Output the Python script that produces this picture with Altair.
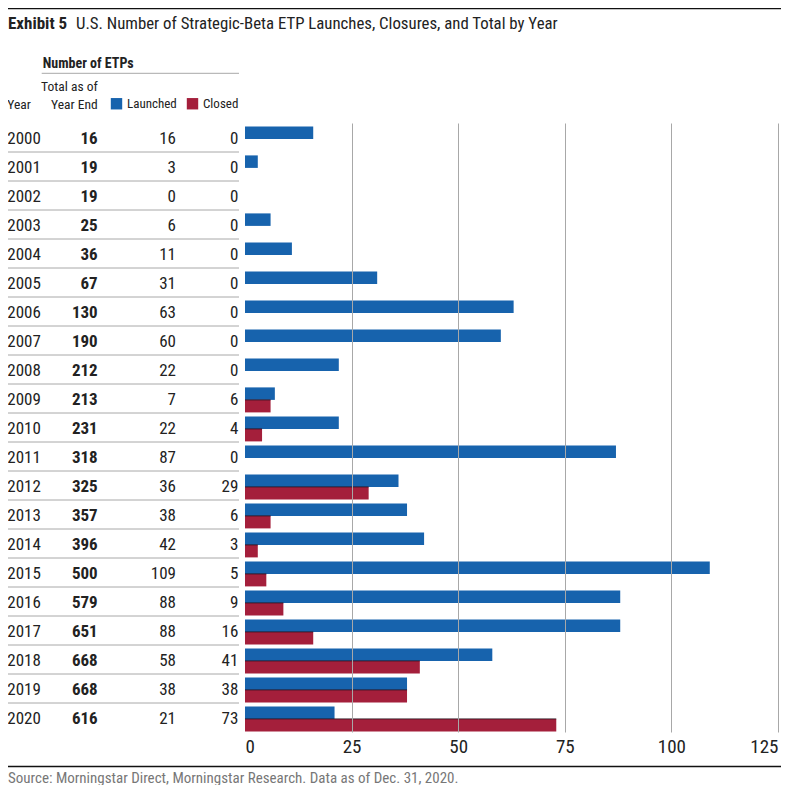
import altair as alt
import pandas as pd

years = [str(y) for y in range(2000, 2021)]
total = [16, 19, 19, 25, 36, 67, 130, 190, 212, 213, 231, 318, 325, 357, 396, 500, 579, 651, 668, 668, 616]
launched = [16, 3, 0, 6, 11, 31, 63, 60, 22, 7, 22, 87, 36, 38, 42, 109, 88, 88, 58, 38, 21]
closed = [0, 0, 0, 0, 0, 0, 0, 0, 0, 6, 4, 0, 29, 6, 3, 5, 9, 16, 41, 38, 73]
series = ["Launched", "Closed"]
ticks = [0, 25, 50, 75, 100, 125]

BLUE = "#1763AD"
RED = "#A41F3B"
FONT = "Roboto Condensed"

rows = pd.DataFrame({"year": years, "total": total, "launched": launched, "closed": closed})
long = pd.DataFrame({
    "year": years + years,
    "series": ["Launched"] * len(years) + ["Closed"] * len(years),
    "value": launched + closed,
})

yenc = alt.Y("year:N", sort=years, scale=alt.Scale(paddingInner=0, paddingOuter=0), axis=None)

bars = alt.Chart(long).mark_bar().encode(
    x=alt.X("value:Q", scale=alt.Scale(domain=[0, 125], nice=False),
            axis=alt.Axis(values=ticks, title=None, domain=False, ticks=False,
                          labelFont=FONT, labelFontSize=19, labelColor="#222",
                          labelPadding=5, labelFlush=True,
                          grid=True, gridColor={"condition": {"test": "datum.value === 0", "value": "transparent"}, "value": "#a8a8a8"},
                          gridWidth=1, zindex=1)),
    y=yenc,
    yOffset=alt.YOffset("series:N", sort=series,
                        scale=alt.Scale(domain=series, paddingInner=0, paddingOuter=0.16, align=0.85)),
    color=alt.Color("series:N", sort=series,
                    scale=alt.Scale(domain=series, range=[BLUE, RED]),
                    legend=alt.Legend(title=None, orient="none", direction="horizontal",
                                      legendX=-135, legendY=-26, symbolType="square",
                                      symbolSize=130, symbolStrokeWidth=0, symbolOpacity=1,
                                      labelFont=FONT, labelFontSize=13, labelColor="#222",
                                      labelOffset=4, columnPadding=9, padding=0)),
)

# thin dark edge on top of the closed bars
edges = alt.Chart(rows[rows.closed > 0]).mark_rule(color="#2a1420", strokeWidth=1, opacity=0.85).encode(
    y=alt.Y("year:N", sort=years, bandPosition=0.548, axis=None),
    x=alt.X("closed:Q"), x2=alt.value(0),
)

def col_text(field, xpos, align, bold=False):
    return alt.Chart(rows).mark_text(
        font=FONT, fontSize=17, align=align, baseline="middle", dy=1.5,
        fontWeight="bold" if bold else "normal", color="#222"
    ).encode(y=yenc, text=f"{field}:N", x=alt.value(xpos))

year_txt = col_text("year", -237.7, "left")
total_txt = col_text("total", -147.3, "right", True)
launch_txt = col_text("launched", -69, "right")
closed_txt = col_text("closed", -6.7, "right")

seps = alt.Chart(rows[rows.year != "2020"]).mark_rule(color="#a8a8a8", strokeWidth=1).encode(
    y=alt.Y("year:N", sort=years, bandPosition=1, axis=None),
    x=alt.value(-237), x2=alt.value(-6),
)

def label(text, x, y, size, align="left", bold=False, color="#222", font=FONT):
    return alt.Chart(pd.DataFrame({"t": [text]})).mark_text(
        font=font, fontSize=size, align=align, baseline="middle",
        fontWeight="bold" if bold else "normal", color=color
    ).encode(text="t:N", x=alt.value(x), y=alt.value(y))

def hline(name, x1, x2, y, color, width):
    return alt.Chart(pd.DataFrame({name: [name]})).mark_rule(color=color, strokeWidth=width).encode(
        x=alt.value(x1), x2=alt.value(x2), y=alt.value(y))

title_bold = label("Exhibit 5", -237, -99, 17, bold=True)
title_reg = label("U.S. Number of Strategic-Beta ETP Launches, Closures, and Total by Year", -169, -99, 16.8)
hdr = label("Number of ETPs", -202.3, -59.5, 14, bold=True)
hdr_rule = hline("h", -203.3, -6, -49.7, "#a8a8a8", 1)
tot1 = label("Total as of", -147.3, -36.5, 13.5, align="right")
tot2 = label("Year End", -147.3, -18.5, 13.5, align="right")
yr = label("Year", -237.7, -18.5, 13.5)
top_rule = hline("top", -238, 536, -114.5, "#111", 1.5)
bot_rule = hline("bottom", -238, 536, 643.5, "#111", 1.5)
source = label("Source: Morningstar Direct, Morningstar Research. Data as of Dec. 31, 2020.", -237, 654.5, 15, color="#777")

chart = alt.layer(
    bars, edges, seps, year_txt, total_txt, launch_txt, closed_txt,
    title_bold, title_reg, hdr, hdr_rule, tot1, tot2, yr, source, top_rule, bot_rule,
).properties(
    width=533, height=609,
    autosize=alt.AutoSizeParams(type="none"),
    padding={"left": 237, "top": 115, "right": 21, "bottom": 53},
).configure_view(stroke=None)

chart.save("out.html", embed_options={"renderer": "svg", "actions": False})
